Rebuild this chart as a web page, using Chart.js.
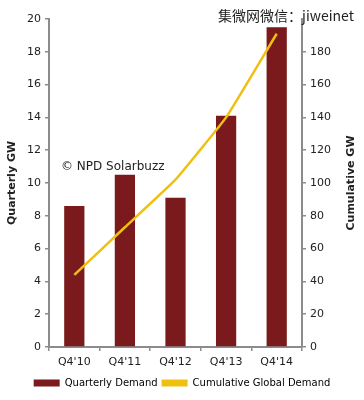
<!DOCTYPE html>
<html>
<head>
<meta charset="utf-8">
<script src="https://cdn.jsdelivr.net/npm/chart.js@4"></script>
<style>
  html, body { margin: 0; padding: 0; background: #fff; }
  #wrap { width: 364px; height: 400px; }
</style>
</head>
<body>
<div id="wrap"><canvas id="chart" width="364" height="400"></canvas></div>
<script>
// dữ liệu
const quarters = ["Q4'10", "Q4'11", "Q4'12", "Q4'13", "Q4'14"];
const quarterlyDemand = [8.6, 10.5, 9.1, 14.1, 19.5];
const cumulativeDemand = [44, 73, 102, 140, 191];
const leftTicks = [0, 2, 4, 6, 8, 10, 12, 14, 16, 18, 20];
const rightTicks = [0, 20, 40, 60, 80, 100, 120, 140, 160, 180];

const barColor = '#7a1a1c';
const lineColor = '#f0c010';
const axisColor = '#8c8c8c';
const fontFamily = '"DejaVu Sans", Verdana, sans-serif';

// chữ ghi chú trên hình + tiêu đề trục phải (đọc từ dưới lên)
const notesPlugin = {
    id: 'notes',
    afterDraw(chart) {
        const ctx = chart.ctx;
        ctx.save();
        ctx.fillStyle = '#222';
        ctx.textBaseline = 'middle';
        ctx.font = '12px ' + fontFamily;
        ctx.textAlign = 'left';
        ctx.fillText('© NPD Solarbuzz', 61, 167);
        ctx.font = '14px "Noto Sans CJK SC", sans-serif';
        ctx.textAlign = 'right';
        ctx.fillText('集微网微信：jiweinet', 354, 16);

        const area = chart.chartArea;
        ctx.translate(351, (area.top + area.bottom) / 2);
        ctx.rotate(-Math.PI / 2);
        ctx.textAlign = 'center';
        ctx.font = 'bold 11px ' + fontFamily;
        ctx.fillText('Cumulative GW', 0, 0);
        ctx.restore();
    }
};

const ctx = document.getElementById('chart').getContext('2d');
new Chart(ctx, {
    data: {
        labels: quarters,
        datasets: [{
            type: 'line',
            label: 'Cumulative Global Demand',
            data: cumulativeDemand,
            yAxisID: 'y2',
            borderColor: lineColor,
            backgroundColor: lineColor,
            borderWidth: 2.5,
            pointRadius: 0,
            tension: 0.1,
            order: 0
        }, {
            type: 'bar',
            label: 'Quarterly Demand',
            data: quarterlyDemand,
            yAxisID: 'y',
            backgroundColor: barColor,
            borderWidth: 0,
            barPercentage: 0.4,
            categoryPercentage: 1,
            order: 1
        }]
    },
    options: {
        responsive: false,
        animation: false,
        layout: { padding: { top: 19, left: 0, right: 0, bottom: 2 } },
        plugins: {
            legend: {
                position: 'bottom',
                reverse: true,
                labels: {
                    color: '#222',
                    font: { family: fontFamily, size: 10 },
                    boxWidth: 26,
                    boxHeight: 7,
                    padding: 4,
                    generateLabels(chart) {
                        return chart.data.datasets.map((ds, i) => ({
                            text: ds.label,
                            fillStyle: ds.type === 'line' ? lineColor : barColor,
                            strokeStyle: 'transparent',
                            lineWidth: 0,
                            datasetIndex: i
                        }));
                    }
                }
            },
            tooltip: { enabled: false }
        },
        scales: {
            x: {
                afterFit(axis) { axis.height = 27; },
                grid: { drawOnChartArea: false, tickLength: 4, color: axisColor, lineWidth: 1.5 },
                border: { color: axisColor, width: 2 },
                ticks: { color: '#222', font: { family: fontFamily, size: 11 }, padding: 5 }
            },
            y: {
                position: 'left',
                min: 0,
                max: 20,
                afterBuildTicks(axis) { axis.ticks = leftTicks.map(v => ({ value: v })); },
                afterFit(axis) { axis.width = 49; },
                grid: { drawOnChartArea: false, tickLength: 4, color: axisColor, lineWidth: 1.5 },
                border: { color: axisColor, width: 2 },
                ticks: { color: '#222', font: { family: fontFamily, size: 11 }, padding: 4 },
                title: {
                    display: true,
                    text: 'Quarterly GW',
                    color: '#222',
                    font: { family: fontFamily, size: 11, weight: 'bold' },
                    padding: { top: 6, bottom: 0 }
                }
            },
            y2: {
                position: 'right',
                min: 0,
                max: 200,
                afterBuildTicks(axis) { axis.ticks = rightTicks.map(v => ({ value: v })); },
                afterFit(axis) { axis.width = 62; },
                grid: { drawOnChartArea: false, tickLength: 4, color: axisColor, lineWidth: 1.5 },
                border: { color: axisColor, width: 2 },
                ticks: { color: '#222', font: { family: fontFamily, size: 11 }, padding: 4 }
            }
        }
    },
    plugins: [notesPlugin]
});
</script>
</body>
</html>
